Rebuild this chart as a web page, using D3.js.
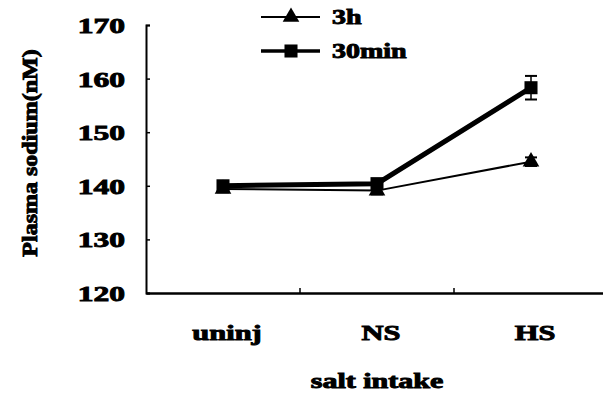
<!DOCTYPE html>
<html>
<head>
<meta charset="utf-8">
<script src="https://cdn.jsdelivr.net/npm/d3@7"></script>
<style>
  body { margin: 0; background: #fff; }
</style>
</head>
<body>
<div id="chart"></div>
<script>
// chart values
const categories = ["uninj", "NS", "HS"];
const series3h = [139.4, 139.1, 144.5];
const err3h = [0.6, 0.7, 0.8];
const series30min = [140.0, 140.4, 158.3];
const err30min = [0.6, 0.8, 2.2];
const yTicks = [120, 130, 140, 150, 160, 170];
const legendNames = ["3h", "30min"];

const FONT = '"Liberation Serif", "Times New Roman", serif';

const width = 603, height = 394;
const margin = {top: 25, right: -5, bottom: 101, left: 146};

const svg = d3.select("#chart").append("svg")
    .attr("width", width)
    .attr("height", height);

let x = d3.scaleBand()
    .domain(categories)
    .range([margin.left, width - margin.right])
    .padding(0);

let y = d3.scaleLinear()
    .domain([120, 170])
    .range([height - margin.bottom, margin.top]);

// bold serif, heavy and stretched horizontally like the scanned figure
function txt(sel, size, k) {
    sel.style("font-family", FONT)
        .style("font-weight", "bold")
        .style("font-size", size + "px")
        .attr("fill", "#000")
        .attr("stroke", "#000")
        .attr("stroke-width", 0.9);
    sel.each(function() {
        let w = this.getComputedTextLength();
        d3.select(this).attr("textLength", w * k).attr("lengthAdjust", "spacingAndGlyphs");
    });
}

// y axis, ticks point inward
let yAxis = d3.axisLeft(y).tickValues(yTicks).tickSize(-4).tickPadding(21);
let gy = svg.append("g")
    .attr("transform", `translate(${margin.left},0)`)
    .call(yAxis);
gy.select(".domain").attr("stroke-width", 2);
gy.selectAll(".tick line").attr("stroke-width", 1.5);
gy.selectAll(".tick text")
    .attr("dy", "0.36em")
    .call(txt, 21, 1.5);

// x axis
let gx = svg.append("g")
    .attr("transform", `translate(0,${y(120)})`)
    .call(d3.axisBottom(x).tickSize(0).tickPadding(32));
gx.select(".domain").attr("stroke-width", 2.5);
gx.selectAll(".tick text")
    .attr("dx", "4")
    .call(txt, 21, 1.45);
gx.selectAll(".bnd")
    .data(categories.slice(1))
    .join("line")
    .attr("class", "bnd")
    .attr("x1", d => x(d)).attr("x2", d => x(d))
    .attr("y1", 0).attr("y2", -5)
    .attr("stroke", "#000").attr("stroke-width", 1.5);

// axis titles
svg.append("text")
    .attr("x", x("NS") + x.bandwidth() / 2)
    .attr("y", 388)
    .attr("text-anchor", "middle")
    .text("salt intake")
    .call(txt, 20, 1.5);

svg.append("text")
    .attr("transform", `translate(37,${(y(120) + y(170)) / 2 - 6}) rotate(-90)`)
    .attr("text-anchor", "middle")
    .text("Plasma sodium(nM)")
    .call(txt, 20, 1.2);

const cx = d => x(d) + x.bandwidth() / 2;
const line = d3.line().x(d => cx(d.cat)).y(d => y(d.v));

const s30 = categories.map((c, i) => ({cat: c, v: series30min[i], e: err30min[i]}));
const s3 = categories.map((c, i) => ({cat: c, v: series3h[i], e: err3h[i]}));

// error bars
function errBars(data) {
    let g = svg.append("g");
    g.selectAll("line.v").data(data).join("line")
        .attr("x1", d => cx(d.cat)).attr("x2", d => cx(d.cat))
        .attr("y1", d => y(d.v - d.e)).attr("y2", d => y(d.v + d.e))
        .attr("stroke", "#000").attr("stroke-width", 1.5);
    g.selectAll("line.c").data(data.flatMap(d => [d.v - d.e, d.v + d.e].map(v => ({cat: d.cat, v}))))
        .join("line")
        .attr("x1", d => cx(d.cat) - 6).attr("x2", d => cx(d.cat) + 6)
        .attr("y1", d => y(d.v)).attr("y2", d => y(d.v))
        .attr("stroke", "#000").attr("stroke-width", 2);
}
errBars(s30);
errBars(s3);

svg.append("path").datum(s30)
    .attr("d", line).attr("fill", "none")
    .attr("stroke", "#000").attr("stroke-width", 5);
svg.append("path").datum(s3)
    .attr("d", line).attr("fill", "none")
    .attr("stroke", "#000").attr("stroke-width", 2);

const tri = d3.symbol().type(d3.symbolTriangle).size(120);
const sq = d3.symbol().type(d3.symbolSquare).size(170);

svg.selectAll(".m3").data(s3).join("path")
    .attr("class", "m3")
    .attr("transform", d => `translate(${cx(d.cat)},${y(d.v)})`)
    .attr("d", tri).attr("fill", "#000");
svg.selectAll(".m30").data(s30).join("path")
    .attr("class", "m30")
    .attr("transform", d => `translate(${cx(d.cat)},${y(d.v)})`)
    .attr("d", sq).attr("fill", "#000");

// legend
const legendY = d3.scalePoint().domain(legendNames).range([17, 51]);
let lg = svg.append("g");
lg.selectAll("line").data(legendNames).join("line")
    .attr("x1", 261).attr("x2", 320)
    .attr("y1", d => legendY(d)).attr("y2", d => legendY(d))
    .attr("stroke", "#000").attr("stroke-width", d => d === "3h" ? 2 : 3.5);
lg.selectAll("path").data(legendNames).join("path")
    .attr("transform", d => `translate(291,${legendY(d)})`)
    .attr("d", d => d === "3h" ? tri() : sq())
    .attr("fill", "#000");
lg.selectAll("text").data(legendNames).join("text")
    .attr("x", 332)
    .attr("y", d => legendY(d))
    .attr("dy", "0.35em")
    .text(d => d)
    .call(txt, 20, 1.4);
</script>
</body>
</html>
